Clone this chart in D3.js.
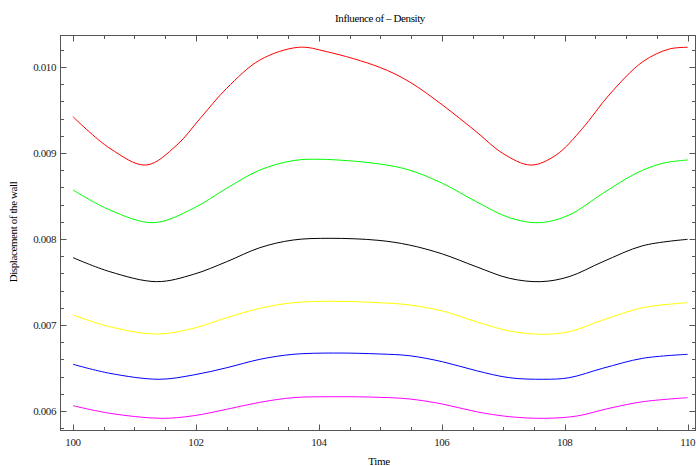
<!DOCTYPE html>
<html>
<head>
<meta charset="utf-8">
<script src="https://cdn.jsdelivr.net/npm/d3@7"></script>
<style>
  body { margin: 0; background: #fff; }
  text { font-family: "Liberation Serif", "DejaVu Serif", serif; }
</style>
</head>
<body>
<svg id="chart" width="696" height="466"></svg>
<script>
const svg = d3.select("#chart");

// series data (time, displacement)
const redT = [100, 100.6, 101.19, 101.69, 102.07, 102.5, 103.04, 103.67, 104.13, 104.99, 105.47, 106.01, 106.56, 106.99, 107.45, 107.86, 108.29, 108.72, 109.27, 109.7, 110];
const redV = [0.009422, 0.009054, 0.00886, 0.009093, 0.009403, 0.009752, 0.010081, 0.010229, 0.010178, 0.009996, 0.009829, 0.009558, 0.009248, 0.008996, 0.00886, 0.008977, 0.009287, 0.009674, 0.010062, 0.010209, 0.010229];

const greenT = [100, 100.6, 101.31, 101.96, 102.5, 103.04, 103.58, 104.02, 104.96, 105.47, 106.01, 106.56, 107.1, 107.59, 108.07, 108.62, 109.16, 109.59, 110];
const greenV = [0.00857, 0.008337, 0.00819, 0.008357, 0.00859, 0.008802, 0.008911, 0.008927, 0.008875, 0.008802, 0.008647, 0.008434, 0.008248, 0.00819, 0.008279, 0.008531, 0.008764, 0.00888, 0.008919];

const blackT = [100, 100.6, 101.36, 101.96, 102.5, 103.04, 103.58, 104.18, 104.96, 105.47, 106.01, 106.56, 107.1, 107.61, 108.07, 108.62, 109.27, 110];
const blackV = [0.007783, 0.00762, 0.007504, 0.007589, 0.007736, 0.007899, 0.007988, 0.008008, 0.007985, 0.00793, 0.007826, 0.007678, 0.007543, 0.007504, 0.007562, 0.007736, 0.007922, 0.007996];

const yellowT = [100, 100.6, 101.36, 101.96, 102.5, 103.04, 103.58, 104.24, 104.99, 105.47, 106.01, 106.56, 107.1, 107.64, 108.07, 108.62, 109.27, 110];
const yellowV = [0.007116, 0.00698, 0.006895, 0.006962, 0.007085, 0.007194, 0.007259, 0.007276, 0.007259, 0.007233, 0.007163, 0.007038, 0.00693, 0.006892, 0.006922, 0.007058, 0.007201, 0.007259];

const blueT = [100, 100.6, 101.4, 101.96, 102.5, 103.04, 103.58, 104.24, 104.99, 105.47, 106.01, 106.56, 107.1, 107.66, 108.07, 108.62, 109.27, 110];
const blueV = [0.006543, 0.006438, 0.006369, 0.006419, 0.006503, 0.006601, 0.006659, 0.006674, 0.006663, 0.006643, 0.006573, 0.006469, 0.006387, 0.006369, 0.006387, 0.006497, 0.006613, 0.006659];

const magentaT = [100, 100.6, 101.43, 101.96, 102.5, 103.04, 103.58, 104.24, 104.99, 105.47, 106.01, 106.56, 107.1, 107.68, 108.2, 108.72, 109.27, 110];
const magentaV = [0.006062, 0.005973, 0.005915, 0.005945, 0.00602, 0.006101, 0.006155, 0.006166, 0.006159, 0.00614, 0.006081, 0.005992, 0.005934, 0.005915, 0.005942, 0.006031, 0.006108, 0.006155];

const seriesNames = ["red", "green", "black", "yellow", "blue", "magenta"];
const seriesColors = ["#ff0000", "#00ff00", "#000000", "#ffff00", "#0000ff", "#ff00ff"];
const seriesT = [redT, greenT, blackT, yellowT, blueT, magentaT];
const seriesV = [redV, greenV, blackV, yellowV, blueV, magentaV];

const xTicks = [100, 102, 104, 106, 108, 110];
const yTicks = [0.006, 0.007, 0.008, 0.009, 0.010];

// frame edges
const frameL = 60.5, frameR = 695.5, frameT = 35.5, frameB = 430.5;

const x = d3.scaleLinear().domain([100, 110]).range([73, 687.7]);
const y = d3.scaleLinear().domain([0.006, 0.010]).range([411, 67]);

const xMinor = d3.range(100, 110.01, 0.5);
const yMinor = d3.range(0.0058, 0.01031, 0.0002);

// clip region for curves
svg.append("clipPath").attr("id", "clip")
  .append("rect")
  .attr("x", frameL).attr("y", frameT)
  .attr("width", frameR - frameL).attr("height", frameB - frameT);

const line = d3.line()
  .x(d => x(d[0]))
  .y(d => y(d[1]))
  .curve(d3.curveCatmullRom.alpha(0.5));

seriesNames.forEach((name, i) => {
  const pts = seriesT[i].map((t, j) => [t, seriesV[i][j]]);
  svg.append("path")
    .datum(pts)
    .attr("clip-path", "url(#clip)")
    .attr("fill", "none")
    .attr("stroke", seriesColors[i])
    .attr("stroke-width", 1)
    .attr("d", line);
});

// frame
svg.append("rect")
  .attr("x", frameL).attr("y", frameT)
  .attr("width", frameR - frameL).attr("height", frameB - frameT)
  .attr("fill", "none")
  .attr("stroke", "#555")
  .attr("stroke-width", 1);

const tickColor = "#555";
const isMajorX = v => Math.abs(v / 2 - Math.round(v / 2)) < 1e-6;
const isMajorY = v => Math.abs(v * 1000 - Math.round(v * 1000)) < 1e-6;

// x ticks, bottom and top, pointing inward
xMinor.forEach(v => {
  const len = isMajorX(v) ? 6 : 3.5;
  const px = Math.round(x(v)) + 0.5;
  svg.append("line").attr("x1", px).attr("x2", px)
    .attr("y1", frameB).attr("y2", frameB - len).attr("stroke", tickColor);
  svg.append("line").attr("x1", px).attr("x2", px)
    .attr("y1", frameT).attr("y2", frameT + len).attr("stroke", tickColor);
});

// y ticks, left and right
yMinor.forEach(v => {
  const len = isMajorY(v) ? 6 : 3.5;
  const py = Math.round(y(v)) + 0.5;
  svg.append("line").attr("x1", frameL).attr("x2", frameL + len)
    .attr("y1", py).attr("y2", py).attr("stroke", tickColor);
  svg.append("line").attr("x1", frameR).attr("x2", frameR - len)
    .attr("y1", py).attr("y2", py).attr("stroke", tickColor);
});

// tick labels
svg.selectAll(".xlab")
  .data(xTicks)
  .enter().append("text")
  .attr("x", d => x(d))
  .attr("y", 446)
  .attr("text-anchor", "middle")
  .attr("font-size", 11)
  .attr("letter-spacing", -0.4)
  .attr("fill", "#222")
  .text(d => d);

svg.selectAll(".ylab")
  .data(yTicks)
  .enter().append("text")
  .attr("x", 56)
  .attr("y", d => y(d) + 4)
  .attr("text-anchor", "end")
  .attr("font-size", 11)
  .attr("letter-spacing", -0.4)
  .attr("fill", "#222")
  .text(d => d3.format(".3f")(d));

// title and axis labels
svg.append("text")
  .attr("x", 380).attr("y", 22)
  .attr("text-anchor", "middle")
  .attr("font-size", 11)
  .attr("letter-spacing", -0.4)
  .text("Influence of \u2013 Density");

svg.append("text")
  .attr("x", 379).attr("y", 465)
  .attr("text-anchor", "middle")
  .attr("font-size", 11)
  .attr("letter-spacing", -0.3)
  .text("Time");

svg.append("text")
  .attr("transform", "translate(17,232) rotate(-90)")
  .attr("text-anchor", "middle")
  .attr("font-size", 11)
  .attr("letter-spacing", -0.4)
  .text("Displacement of the wall");
</script>
</body>
</html>
